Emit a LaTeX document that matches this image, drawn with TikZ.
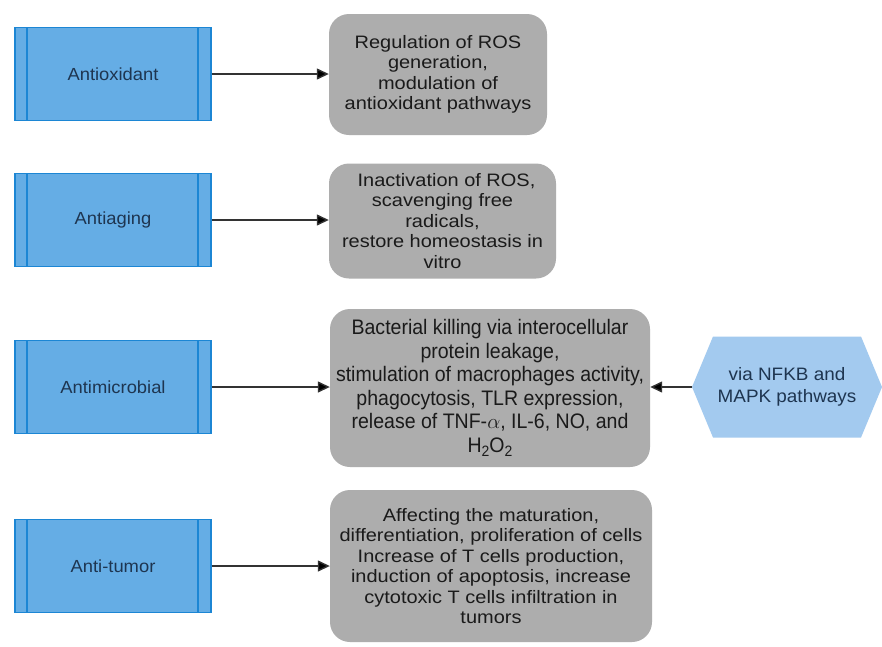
\documentclass[tikz,border=0pt]{standalone}
\usepackage{fontspec}
\setmainfont{Liberation Sans}
\newfontfamily\grayfont{Liberation Sans}[FakeStretch=1.11]
\newfontfamily\bluefont{Liberation Sans}[FakeStretch=1.05]
\newfontfamily\narrowfont{Liberation Sans}[FakeStretch=0.93]
\usetikzlibrary{arrows.meta}
\definecolor{bluefill}{HTML}{65ADE5}
\definecolor{blueedge}{HTML}{1C86D4}
\definecolor{hexfill}{HTML}{A3CAEF}
\definecolor{grayfill}{HTML}{ADADAD}
\definecolor{bluetext}{HTML}{1E3550}
\definecolor{graytext}{HTML}{1A1A1A}
\tikzset{
  procbox/.style={draw=blueedge, line width=1.2pt, fill=bluefill, minimum width=196pt, minimum height=93pt,
    inner sep=0pt, text=bluetext, font=\bluefont\fontsize{17.5}{20}\selectfont,
    path picture={
      \draw[blueedge, line width=1.2pt] ([xshift=12pt]path picture bounding box.north west) -- ([xshift=12pt]path picture bounding box.south west);
      \draw[blueedge, line width=1.2pt] ([xshift=-13pt]path picture bounding box.north east) -- ([xshift=-13pt]path picture bounding box.south east);
    }},
  effbox/.style={fill=grayfill, rounded corners=20pt, inner sep=0pt, align=center, text=graytext,
    font=\grayfont\fontsize{18}{20.5}\selectfont},
  hexbox/.style={minimum width=190pt, minimum height=101pt, inner sep=0pt, align=center, text=bluetext,
    font=\bluefont\fontsize{18}{22}\selectfont,
    path picture={
      \fill[hexfill] (path picture bounding box.west) -- ([xshift=21pt]path picture bounding box.north west)
        -- ([xshift=-21pt]path picture bounding box.north east) -- (path picture bounding box.east)
        -- ([xshift=-21pt]path picture bounding box.south east) -- ([xshift=21pt]path picture bounding box.south west) -- cycle;
    }},
  conn/.style={draw=black!80, line width=1.4pt, -{Triangle[length=12pt,width=11pt,fill=black]}}
}
\begin{document}
\begin{tikzpicture}[x=1pt,y=-1pt]
\useasboundingbox (0,0) rectangle (882,646);
\fill[white] (0,0) rectangle (882,646);

\node[procbox] (b1) at (113,74) {Antioxidant};
\node[procbox] (b2) at (113,220) {Antiaging};
\node[procbox] (b3) at (113,387) {Antimicrobial};
\node[procbox] (b4) at (113,566) {Anti-tumor};

\node[effbox, minimum width=218pt, minimum height=121pt] (g1) at (438,74.5)
  {Regulation of ROS\\generation,\\modulation of\\antioxidant pathways};
\node[effbox, minimum width=227pt, minimum height=115pt] (g2) at (442.5,221)
  {\hspace{8pt}Inactivation of ROS,\\scavenging free\\radicals,\\restore homeostasis in\\vitro};
\node[effbox, minimum width=320pt, minimum height=158pt, font=\narrowfont\fontsize{21}{23.5}\selectfont] (g3) at (490,388)
  {Bacterial killing via interocellular\\protein leakage,\\stimulation of macrophages activity,\\phagocytosis, TLR expression,\\release of TNF-$\alpha$, IL-6, NO, and\\H\raisebox{-0.35ex}{\fontsize{15}{15}\selectfont 2}O\raisebox{-0.35ex}{\fontsize{15}{15}\selectfont 2}};
\node[effbox, minimum width=322pt, minimum height=152pt] (g4) at (491,566)
  {Affecting the maturation,\\differentiation, proliferation of cells\\Increase of T cells production,\\induction of apoptosis, increase\\cytotoxic T cells infiltration in\\tumors};

\node[hexbox] (hx) at (787,387) {via NFKB and\\MAPK pathways};

\draw[conn] (b1.east) -- (b1.east -| g1.west);
\draw[conn] (b2.east) -- (b2.east -| g2.west);
\draw[conn] (b3.east) -- (b3.east -| g3.west);
\draw[conn] (b4.east) -- (b4.east -| g4.west);
\draw[conn] (hx.west) -- (hx.west -| g3.east);
\end{tikzpicture}
\end{document}
